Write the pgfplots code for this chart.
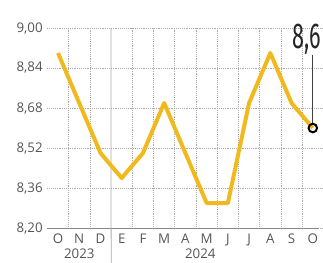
\documentclass[border=0pt]{standalone}
\usepackage{pgfplots}
\pgfplotsset{compat=1.18}
\usepackage{fontspec}
\setmainfont{Open Sans}
\newfontfamily\labelfont{Fira Sans}
\definecolor{linegold}{HTML}{F0BA1E}
\definecolor{ticktext}{HTML}{555555}
\definecolor{gridc}{HTML}{AAAAAA}
\begin{document}
\begin{tikzpicture}
\useasboundingbox (0,0) rectangle (242.25pt,196.5pt);
\begin{axis}[
  at={(35.55pt,25.5pt)}, anchor=south west,
  width=207pt, height=150pt, scale only axis,
  xmin=-0.5, xmax=12.5, ymin=8.2, ymax=9.0,
  clip=false,
  axis line style={draw=none},
  xtick={0,...,12},
  xticklabels={O,N,D,E,F,M,A,M,J,J,A,S,O},
  minor xtick={0.5,1.5,3.5,4.5,5.5,6.5,7.5,8.5,9.5,10.5,11.5},
  ytick={8.20,8.36,8.52,8.68,8.84,9.00},
  major tick length=0pt, minor tick length=0pt,
  ymajorgrids, xminorgrids,
  major grid style={gridc, densely dotted, line width=0.5pt},
  minor grid style={gridc, densely dotted, line width=0.5pt},
  tick label style={font=\fontsize{10}{12}\selectfont, text=ticktext},
  yticklabel style={/pgf/number format/.cd, fixed, fixed zerofill, precision=2, use comma},
  /pgf/number format/assume math mode=true,
  xticklabel style={yshift=-1pt},
]
\draw[gridc!80!black, line width=0.6pt] (axis cs:-0.5,8.2) -- (axis cs:12.3,8.2);
\draw[gridc, line width=0.6pt] (axis cs:2.5,9.0) -- (axis cs:2.5,8.2) -- ++(0,-26pt);
\addplot[linegold, line width=3pt, line join=round] coordinates {
(0,8.90) (1,8.70) (2,8.50) (3,8.40) (4,8.50) (5,8.70) (6,8.50) (7,8.30) (8,8.30) (9,8.70) (10,8.90) (11,8.70) (12,8.60)};
\draw[black!75, line width=0.7pt] (axis cs:12,8.892) -- (axis cs:12,8.62);
\addplot[only marks, mark=o, mark size=3.2pt, mark options={draw=black, fill=white, line width=1.5pt}] coordinates {(12,8.60)};
\node[font=\fontsize{10}{12}\selectfont, text=ticktext] at ([yshift=-19.5pt]axis cs:1,8.2) {2023};
\node[font=\fontsize{10}{12}\selectfont, text=ticktext] at ([yshift=-19.5pt]axis cs:6.7,8.2) {2024};
\end{axis}
\node[anchor=base west, inner sep=0pt, xscale=0.6, text=black!85, font=\labelfont\fontsize{27}{30}\selectfont] at (219pt,160.5pt) {8,6};
\end{tikzpicture}
\end{document}
